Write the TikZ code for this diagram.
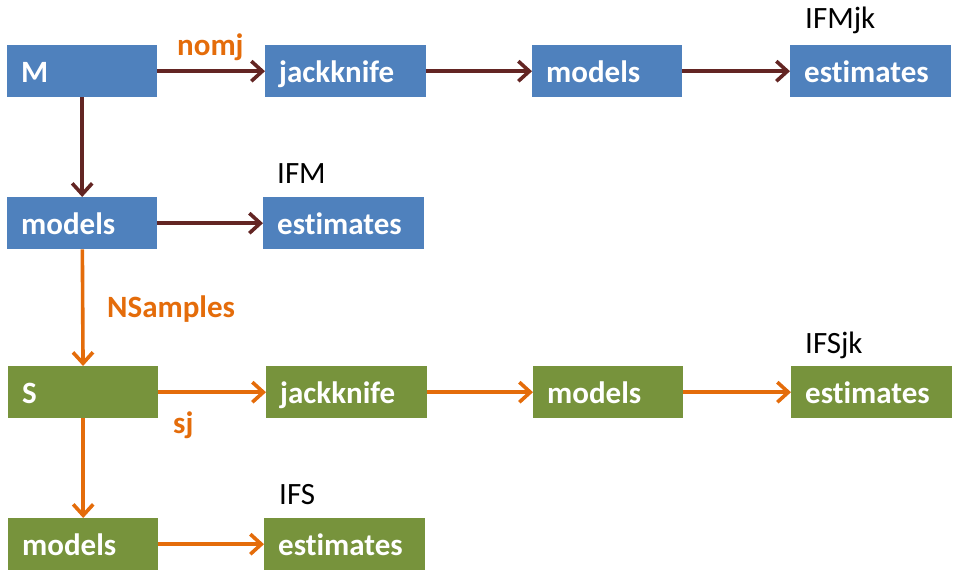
\documentclass[tikz,border=0pt]{standalone}
\usepackage{fontspec}
\setmainfont[RawFeature={-liga;-calt;-clig}]{Carlito}
\usetikzlibrary{arrows.meta}
\definecolor{boxblue}{HTML}{4F81BD}
\definecolor{boxgreen}{HTML}{77933C}
\definecolor{darkred}{HTML}{632523}
\definecolor{orng}{HTML}{E46C0A}
\tikzset{
  box/.style={anchor=north west, inner xsep=14pt, inner ysep=0pt,
    text height=37pt, text depth=15pt, align=left,
    font=\fontsize{31}{31}\selectfont\bfseries, text=white},
  narrow/.style={box, text width=122pt},
  wide/.style={box, text width=133pt},
  bluebox/.style={fill=boxblue},
  greenbox/.style={fill=boxgreen},
  conn/.style={line width=3.6pt, -{Straight Barb[length=11pt, width=20pt, line width=3.6pt]}},
  redc/.style={conn, draw=darkred},
  orc/.style={conn, draw=orng},
  lbl/.style={anchor=base west, inner sep=0pt, font=\fontsize{31}{31}\selectfont\bfseries, text=orng},
  tag/.style={anchor=base west, inner sep=0pt, font=\fontsize{31}{31}\selectfont, text=black}
}
\begin{document}
\begin{tikzpicture}[x=1pt,y=-1pt]
\useasboundingbox (0,0) rectangle (953,570);
% row 1
\node[narrow,bluebox] (M) at (7,45) {M};
\node[wide,bluebox] (jkM) at (265,45) {jackknife};
\node[narrow,bluebox] (mjM) at (532,45) {models};
\node[wide,bluebox] (ejM) at (790,45) {estimates};
% row 2
\node[narrow,bluebox] (mM) at (7,197) {models};
\node[wide,bluebox] (eM) at (263,197) {estimates};
% row 3
\node[narrow,greenbox] (S) at (8,366) {S};
\node[wide,greenbox] (jkS) at (266,366) {jackknife};
\node[narrow,greenbox] (mjS) at (533,366) {models};
\node[wide,greenbox] (ejS) at (791,366) {estimates};
% row 4
\node[narrow,greenbox] (mS) at (8,518) {models};
\node[wide,greenbox] (eS) at (264,518) {estimates};
% connectors
\draw[redc] (M) -- (jkM);
\draw[redc] (jkM) -- (mjM);
\draw[redc] (mjM) -- (ejM);
\draw[redc] (M) -- (mM);
\draw[redc] (mM) -- (eM);
\draw[orc] (mM) -- (S);
\draw[orc] (S) -- (jkS);
\draw[orc] (jkS) -- (mjS);
\draw[orc] (mjS) -- (ejS);
\draw[orc] (S) -- (mS);
\draw[orc] (mS) -- (eS);
% labels
\node[lbl] (nomj) at (177,55) {nomj};
\node[lbl] (nsamp) at (107,317) {NSamples};
\node[lbl] (sj) at (173,433) {sj};
\node[tag] (ifmjk) at (805,28) {IFMjk};
\node[tag] (ifm) at (277,183) {IFM};
\node[tag] (ifsjk) at (805,353) {IFSjk};
\node[tag] (ifs) at (279,504) {IFS};
\end{tikzpicture}
\end{document}
